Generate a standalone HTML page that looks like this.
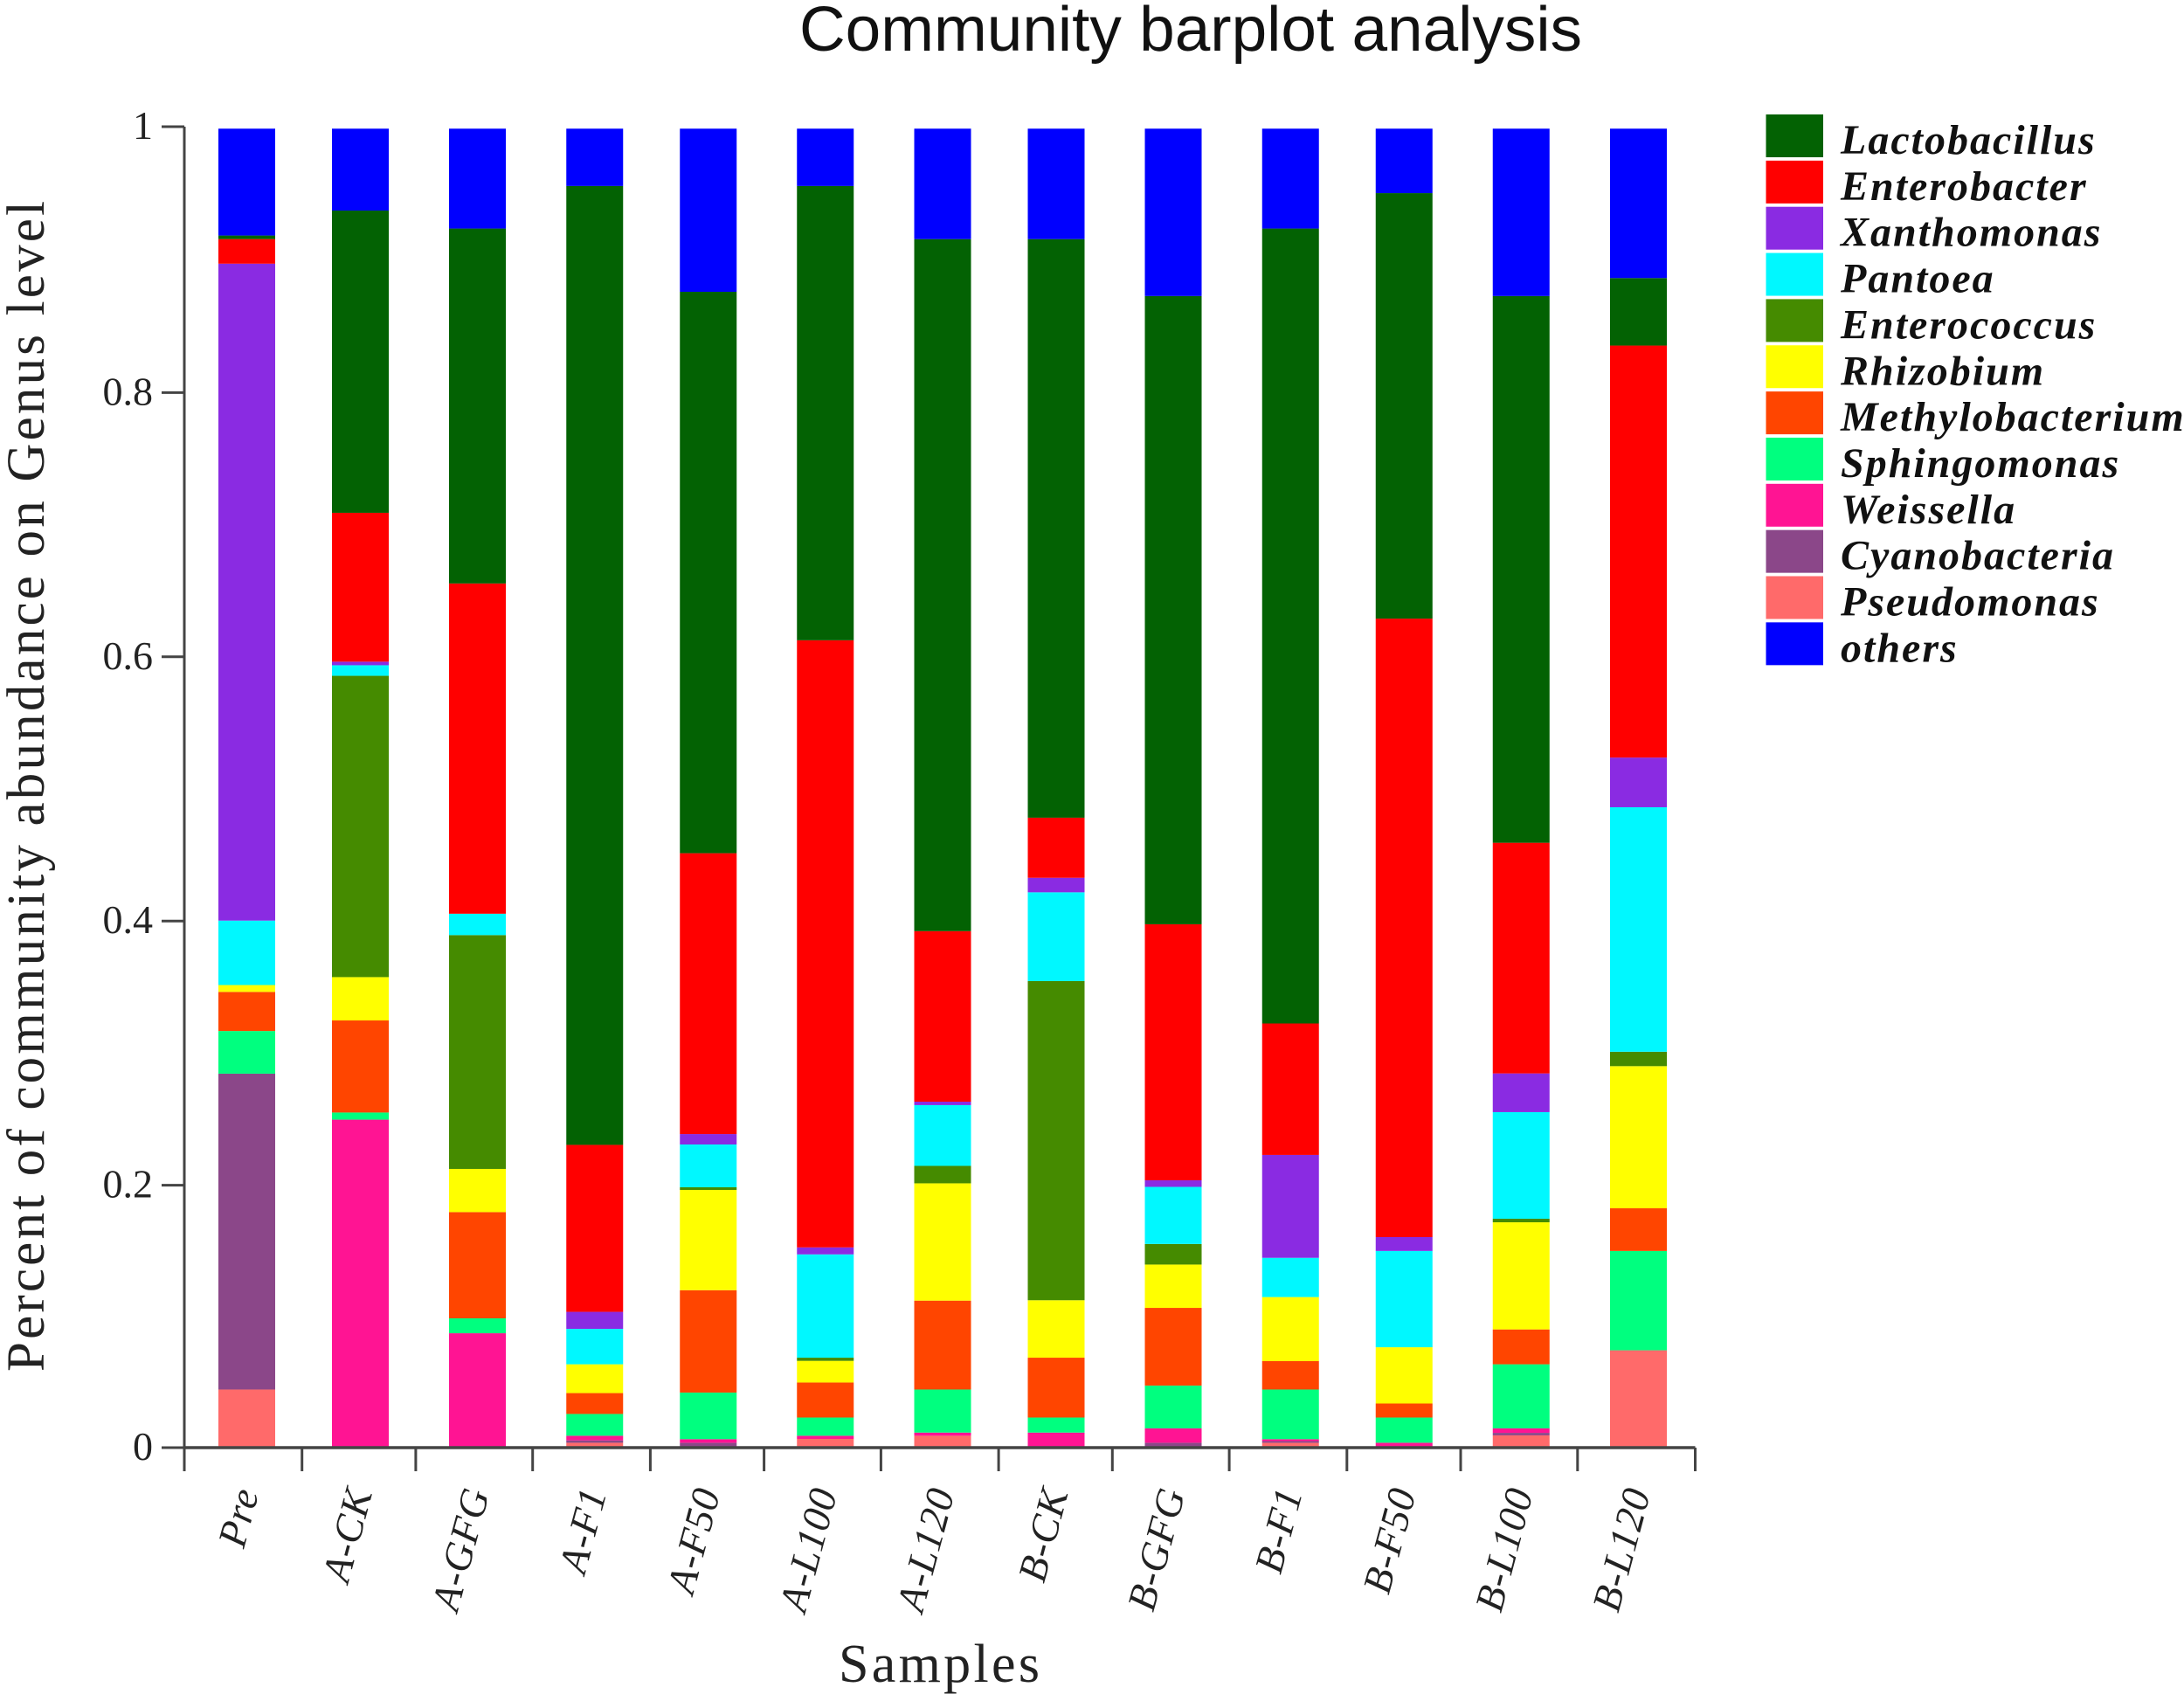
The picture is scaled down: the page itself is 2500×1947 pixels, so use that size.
<!DOCTYPE html>
<html lang="en">
<head>
<meta charset="utf-8">
<title>Community barplot analysis</title>
<style>
html,body{margin:0;padding:0;background:#fff}
svg{display:block}
</style>
</head>
<body>
<svg id="chart" xmlns="http://www.w3.org/2000/svg" width="2500" height="1947" viewBox="0 0 2500 1947">
  <rect x="0" y="0" width="2500" height="1947" fill="#ffffff"/>
  <text x="915" y="58" font-family="'Liberation Sans', sans-serif" font-size="72" fill="#111" textLength="896" lengthAdjust="spacingAndGlyphs">Community barplot analysis</text>
  <text transform="translate(50 1570) rotate(-90)" font-family="'Liberation Serif', serif" font-size="61" fill="#222" textLength="1340" lengthAdjust="spacing">Percent of community abundance on Genus level</text>
  <text x="960" y="1925" font-family="'Liberation Serif', serif" font-size="62" fill="#222" textLength="230" lengthAdjust="spacing">Samples</text>
  <g id="bars"></g>
  <g id="axes"></g>
  <g id="legend"></g>
</svg>
<script>
const samples = ["Pre","A-CK","A-GFG","A-F1","A-F50","A-L100","A-L120","B-CK","B-GFG","B-F1","B-F50","B-L100","B-L120"];
const yTickValues = [0,0.2,0.4,0.6,0.8,1];
const yTickLabels = ["0","0.2","0.4","0.6","0.8","1"];
const genusNames = ["Lactobacillus","Enterobacter","Xanthomonas","Pantoea","Enterococcus","Rhizobium","Methylobacterium","Sphingomonas","Weissella","Cyanobacteria","Pseudomonas","others"];

const pseudomonas      = [.044,0,0,.0037,0,.0066,.009,0,0,.0037,0,.0093,.0737];
const cyanobacteria    = [.2391,0,0,.0018,.0037,0,0,0,.0037,.0013,0,.0019,0];
const weissella        = [0,.2483,.0866,.0035,.0027,.0024,.0024,.0114,.0109,.0014,.0037,.0034,0];
const sphingomonas     = [.0323,.0054,.0113,.0165,.0353,.0138,.0326,.0114,.0324,.0376,.0191,.0485,.0752];
const methylobacterium = [.0296,.0697,.0804,.0158,.0775,.0265,.0673,.0453,.0588,.0215,.0106,.0264,.0323];
const rhizobium        = [.0052,.0328,.0327,.0218,.0759,.0164,.0888,.0435,.0328,.0485,.0426,.0811,.1076];
const enterococcus     = [0,.2281,.177,0,.002,.0024,.0132,.2416,.0156,0,0,.0027,.0109];
const pantoea          = [.0488,.008,.0162,.0268,.0324,.0782,.046,.0672,.0432,.0297,.0729,.0807,.1851];
const xanthomonas      = [.4973,.0027,0,.0129,.0079,.0053,.0026,.011,.005,.0779,.0105,.0293,.0376];
const enterobacter     = [.0186,.1127,.25,.1264,.2126,.4596,.1291,.0455,.1938,.0995,.4682,.1746,.3119];
const lactobacillus    = [.0027,.2288,.2687,.7259,.425,.3439,.5239,.438,.4756,.6018,.3221,.4139,.0511];
const others           = [.0809,.062,.0756,.0434,.1235,.0434,.0836,.0836,.1267,.0756,.0488,.1267,.1131];

const seriesTopDown = [lactobacillus,enterobacter,xanthomonas,pantoea,enterococcus,rhizobium,methylobacterium,sphingomonas,weissella,cyanobacteria,pseudomonas,others];
const genusColors = ["#036203","#ff0000","#8a2be2","#00f8ff","#458b00","#ffff00","#ff4500","#00ff7f","#ff1493","#8b4789","#ff6a6a","#0000ff"];

const NS = "http://www.w3.org/2000/svg";
const Y0 = 1657, Y1 = 145, AXIS_X = 211, TICK_STEP = 132.9;
const BAR_FIRST = 282.5, BAR_STEP = 132.75, BAR_W = 65;
function yScale(v){ return Y0 - v * (Y0 - Y1); }
function yTickPos(v){ return yScale(v) + ((v > 0 && v < 1) ? 2 : 0); }
// the source figure has a repeating 3-step rounding pattern in its horizontal layout
function barCenter(i){ const m = i % 3; return BAR_FIRST + BAR_STEP * i + (m === 1 ? -2.75 : m === 2 ? -1.5 : 0); }
function xTick(i){ const m = i % 3; return AXIS_X + TICK_STEP * i + (m === 1 ? 1.8 : m === 2 ? -0.9 : 0); }
function slug(s){ return s.toLowerCase().replace(/[^a-z0-9]+/g,'-'); }
function make(tag, attrs, parent){
  const el = document.createElementNS(NS, tag);
  for (const k in attrs) el.setAttribute(k, attrs[k]);
  parent.appendChild(el);
  return el;
}

const barsG = document.getElementById('bars');
const axesG = document.getElementById('axes');
const legendG = document.getElementById('legend');

// stacks: bottom-up order is pseudomonas ... lactobacillus, then others on top
const stackOrder = [10,9,8,7,6,5,4,3,2,1,0,11];
samples.forEach(function(name, i){
  let cum = 0;
  stackOrder.forEach(function(s){
    const v = seriesTopDown[s][i];
    if (v > 0) {
      const r = make('rect', {x: barCenter(i) - BAR_W / 2, y: yScale(cum + v), width: BAR_W, height: yScale(cum) - yScale(cum + v), fill: genusColors[s]}, barsG);
      
      
    }
    cum += v;
  });
});

const AXIS_COLOR = '#444';
const yAxisLine = make('line', {x1: AXIS_X, x2: AXIS_X, y1: Y1, y2: Y0, stroke: AXIS_COLOR, 'stroke-width': 3}, axesG);


const xAxisLine = make('line', {x1: AXIS_X, x2: xTick(samples.length), y1: Y0, y2: Y0, stroke: AXIS_COLOR, 'stroke-width': 3.5}, axesG);



yTickValues.forEach(function(v, i){
  const t = make('line', {x1: 185, x2: AXIS_X, y1: yTickPos(v), y2: yTickPos(v), stroke: AXIS_COLOR, 'stroke-width': 3}, axesG);
  
  
  const l = make('text', {x: 175, y: yTickPos(v) + 14, 'text-anchor': 'end', 'font-family': "'Liberation Serif', serif", 'font-size': 46, fill: '#222'}, axesG);
  l.textContent = yTickLabels[i];
  
  
});

for (let i = 0; i <= samples.length; i++) {
  const t = make('line', {x1: xTick(i), x2: xTick(i), y1: Y0, y2: Y0 + 27, stroke: AXIS_COLOR, 'stroke-width': 3}, axesG);
  
  
}
samples.forEach(function(name, i){
  const ax = barCenter(i) + 14, ay = 1708;
  const l = make('text', {transform: 'translate(' + ax + ' ' + ay + ') rotate(-75)', 'text-anchor': 'end', 'font-family': "'Liberation Serif', serif", 'font-style': 'italic', 'font-size': 46, 'letter-spacing': 1, fill: '#222'}, axesG);
  l.textContent = name;
  
  
});

const LEG_X = 2021.5, LEG_Y = 131, LEG_STEP = 52.85, LEG_W = 65.5, LEG_H = 49;
genusNames.forEach(function(name, i){
  const y = LEG_Y + LEG_STEP * i;
  const g = make('g', {}, legendG);
  
  
  const sw = make('rect', {x: LEG_X, y: y, width: LEG_W, height: LEG_H, fill: genusColors[i]}, g);
  
  
  const t = make('text', {x: 2107, y: y + 45, 'font-family': "'Liberation Serif', serif", 'font-style': 'italic', 'font-weight': 'bold', 'font-size': 48, 'letter-spacing': 2, fill: '#111'}, g);
  t.textContent = name;
  
  
});
</script>
</body>
</html>
